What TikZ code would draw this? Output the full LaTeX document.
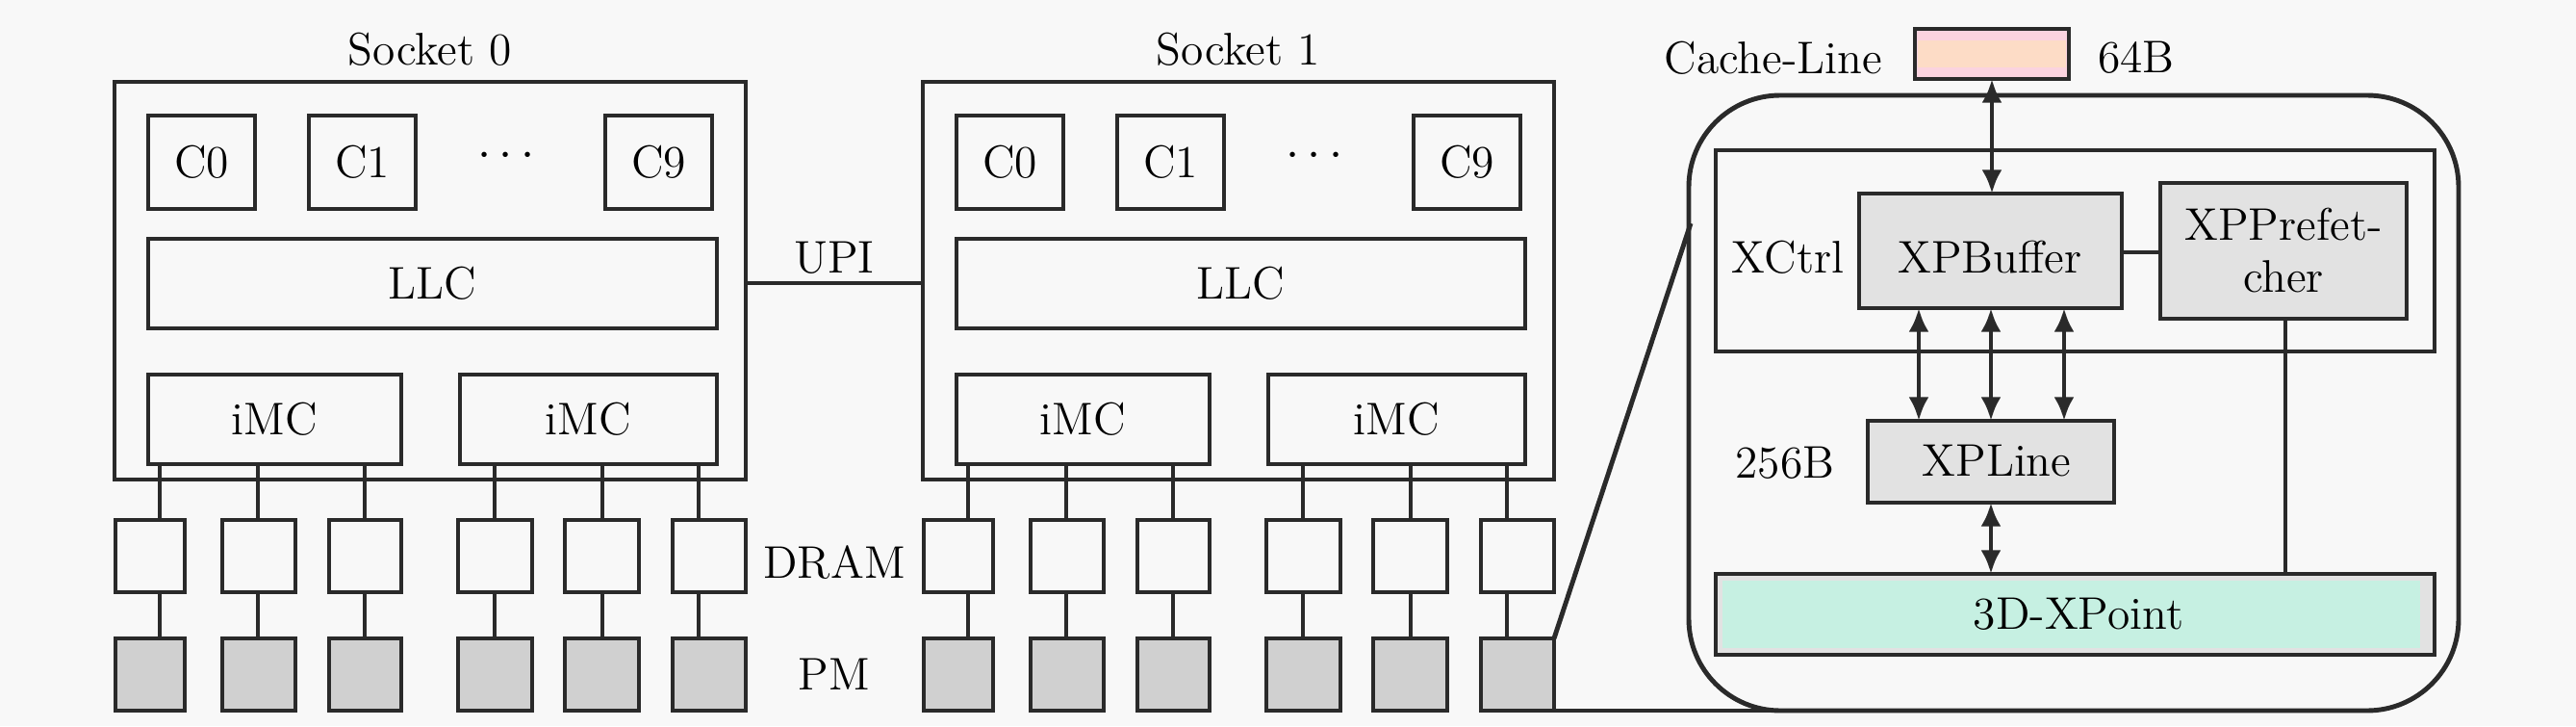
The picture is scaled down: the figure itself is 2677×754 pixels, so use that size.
\documentclass[tikz,border=0pt]{standalone}
\usetikzlibrary{arrows.meta}
\definecolor{bg}{HTML}{F8F8F8}
\definecolor{ln}{HTML}{2A2A2A}
\definecolor{gr}{HTML}{D0D0D0}
\definecolor{lgr}{HTML}{E2E2E2}
\definecolor{mint}{HTML}{C6F0E2}
\definecolor{pink}{HTML}{FBD3DF}
\definecolor{peach}{HTML}{FDDCC6}
\begin{document}
\begin{tikzpicture}[x=0.01cm,y=-0.01cm,
  every node/.style={font=\fontsize{13.5}{16}\selectfont},
  bx/.style={draw=ln,line width=1.4pt},
  ar/.style={draw=ln,line width=1.4pt,{Latex[length=7pt,width=6pt]}-{Latex[length=7pt,width=6pt]}},
  cn/.style={draw=ln,line width=1.4pt}]
\fill[bg] (0,0) rectangle (2677,754);
\useasboundingbox (0,0) rectangle (2677,754);
% sockets
\foreach \s/\o in {0/0,1/840}{
  \begin{scope}[xshift=\o*0.01cm]
  \draw[bx] (119,85) rectangle (775,498);
  \node at (447,51) {Socket \s};
  \draw[bx] (154,120) rectangle (265,217); \node at (209.5,168) {C0};
  \draw[bx] (321,120) rectangle (432,217); \node at (376.5,168) {C1};
  \node at (526,162) {$\cdots$};
  \draw[bx] (629,120) rectangle (740,217); \node at (684.5,168) {C9};
  \draw[bx] (154,248) rectangle (745,341); \node at (449.5,294) {LLC};
  \draw[bx] (154,389) rectangle (417,482); \node at (285.5,435) {iMC};
  \draw[bx] (478,389) rectangle (745,482); \node at (611.5,435) {iMC};
  \foreach \a/\b/\l in {120/192/166,231/307/268,342/417/379,476/553/514,587/664/626,699/775/726}{
    \draw[cn] (\l,482) -- (\l,540);
    \draw[cn] (\l,615) -- (\l,663);
    \draw[bx] (\a,540) rectangle (\b,615);
    \draw[bx,fill=gr] (\a,663) rectangle (\b,738);
  }
  \end{scope}}
\draw[cn] (775,294) -- (959,294);
\node at (867,268) {UPI};
\node at (867,584) {DRAM};
\node at (867,700) {PM};
% zoom
\draw[cn] (1615,663) -- (1757,232);
\draw[cn] (1615,738) -- (1860,738);
\draw[bx,rounded corners=0.95cm] (1755,99) rectangle (2555,738);
% cache line
\draw[bx,fill=pink] (1990,30) rectangle (2150,82);
\fill[peach] (1993,42) rectangle (2147,70);
\node at (1843,60) {Cache-Line};
\node at (2220,60) {64B};
% XCtrl
\draw[bx] (1783,156) rectangle (2530,365);
\node at (1858,267) {XCtrl};
\draw[bx,fill=lgr] (1932,201) rectangle (2205,320); \node at (2068,267) {XPBuffer};
\draw[bx,fill=lgr] (2245,190) rectangle (2501,331);
\node[align=center,font=\fontsize{13.5}{15.5}\selectfont] at (2373,260) {XPPrefet-\\cher};
\draw[bx,fill=lgr] (1941,437) rectangle (2197,522); \node at (2075,479) {XPLine};
\node at (1855,481) {256B};
\draw[bx,fill=lgr] (1783,596) rectangle (2530,680);
\fill[mint] (1790,603) rectangle (2515,673);
\node at (2160,638) {3D-XPoint};
\draw[ar] (2070,82) -- (2070,201);
\foreach \x in {1994,2069,2145}{\draw[ar] (\x,320) -- (\x,437);}
\draw[ar] (2069,522) -- (2069,596);
\draw[cn] (2205,262) -- (2245,262);
\draw[cn] (2375,331) -- (2375,596);
\end{tikzpicture}
\end{document}
